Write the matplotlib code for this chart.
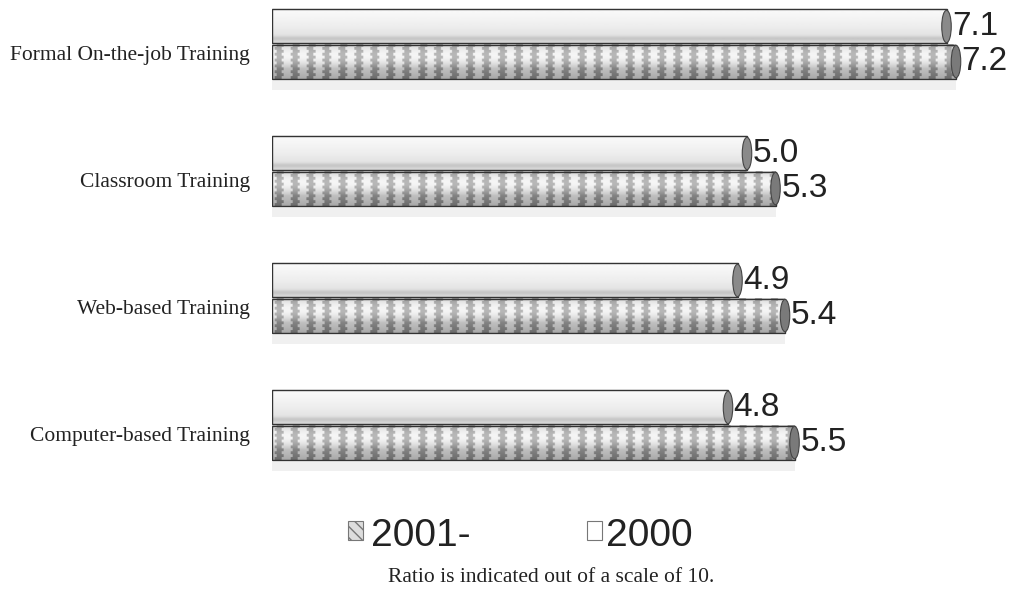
import numpy as np
import matplotlib.pyplot as plt
from matplotlib.patches import Rectangle, Ellipse
from matplotlib.transforms import blended_transform_factory

categories = ['Formal On-the-job Training', 'Classroom Training',
              'Web-based Training', 'Computer-based Training']
vals_2000 = [7.1, 5.0, 4.9, 4.8]
vals_2001 = [7.2, 5.3, 5.4, 5.5]
legend_labels = ['2001-', '2000']
caption = 'Ratio is indicated out of a scale of 10.'

W, H = 1015, 589
fig = plt.figure(figsize=(W / 100, H / 100), dpi=100)
fig.patch.set_facecolor('white')

# axes spans pixel x 272..1013, y 0..480 (from top)
ax = fig.add_axes([272 / W, 1 - 480 / H, (1013 - 272) / W, 480 / H])
ax.set_xlim(0, 7.8)
ax.set_ylim(480 / 127 - 44 / 127, -44 / 127)
ax.axis('off')

h = 0.268
off = 0.138
period = 0.168


def light_bar(v, yc):
    ny = 40
    nx = max(int(v * 95), 2)
    t = np.linspace(0, 1, ny)[:, None]
    prof = 0.975 - 0.12 * t ** 1.5
    prof = prof - 0.10 * np.exp(-((t - 0.88) / 0.07) ** 2)
    img = np.repeat(prof, nx, axis=1)
    ax.imshow(img, cmap='gray', vmin=0, vmax=1, aspect='auto', interpolation='bilinear',
              extent=[0, v, yc + h / 2, yc - h / 2], zorder=2)


def striped_bar(v, yc):
    ny = 36
    nx = max(int(v * 95) * 3, 2)
    t = np.linspace(0, 1, ny)[:, None]
    x = np.linspace(0, v, nx)[None, :]
    rows = np.arange(ny)[:, None]
    wob = ((rows // 3) % 2) * 0.8
    ph = (x / period * 2 * np.pi + wob) % (2 * np.pi)
    stripe = (np.cos(ph) > -0.2).astype(float)
    light = 0.84 + 0.14 * np.sin(np.pi * np.clip(t * 1.4, 0, 1))
    light = light - 0.18 * t ** 2
    dark = light - 0.24
    img = dark + (light - dark) * stripe
    ax.imshow(np.clip(img, 0, 1), cmap='gray', vmin=0, vmax=1, aspect='auto',
              interpolation='bilinear',
              extent=[0, v, yc + h / 2, yc - h / 2], zorder=2)


for i, (a, b) in enumerate(zip(vals_2000, vals_2001)):
    y_top = i - off
    y_bot = i + off
    # faint shadow under the pair
    ax.add_patch(Rectangle((0, y_bot + h / 2 + 0.02), b, 0.07,
                           facecolor='#f0f0f0', edgecolor='none', zorder=1))
    light_bar(a, y_top)
    ax.add_patch(Rectangle((0, y_top - h / 2), a, h, fill=False,
                           edgecolor='#333333', lw=1.0, zorder=3))
    ax.add_patch(Ellipse((a, y_top), 0.1, h * 0.95, facecolor='#8a8a8a',
                         edgecolor='#444444', lw=0.8, zorder=4))
    striped_bar(b, y_bot)
    ax.add_patch(Rectangle((0, y_bot - h / 2), b, h, fill=False,
                           edgecolor='#333333', lw=1.0, zorder=3))
    ax.add_patch(Ellipse((b, y_bot), 0.1, h * 0.95, facecolor='#7a7a7a',
                         edgecolor='#444444', lw=0.8, zorder=4))
    ax.text(a + 0.06, y_top, f'{a:.1f}', ha='left', va='center',
            fontsize=24, family='Liberation Sans', color='#222222', zorder=5)
    ax.text(b + 0.06, y_bot, f'{b:.1f}', ha='left', va='center',
            fontsize=24, family='Liberation Sans', color='#222222', zorder=5)

tr = blended_transform_factory(fig.transFigure, ax.transData)
for i, c in enumerate(categories):
    ax.text(250 / W, i + 0.09, c, transform=tr, ha='right', va='center',
            fontsize=15.5, family='Liberation Serif', color='#222222')

# legend
ly = 1 - 536 / H
fig.patches.append(Rectangle((348 / W, 1 - 540 / H), 15 / W, 19 / H,
                             transform=fig.transFigure, facecolor='#dddddd',
                             edgecolor='#777777', lw=0.8, hatch='\\\\\\'))
fig.text(371 / W, ly, legend_labels[0], ha='left', va='center',
         fontsize=28, family='Liberation Sans', color='#222222')
fig.patches.append(Rectangle((587 / W, 1 - 540 / H), 15 / W, 19 / H,
                             transform=fig.transFigure, facecolor='white',
                             edgecolor='#777777', lw=0.8))
fig.text(606 / W, ly, legend_labels[1], ha='left', va='center',
         fontsize=28, family='Liberation Sans', color='#222222')

fig.text(551 / W, 1 - 577 / H, caption, ha='center', va='center',
         fontsize=15.5, family='Liberation Serif', color='#222222')

fig.savefig('out.png', dpi=100, facecolor='white')
